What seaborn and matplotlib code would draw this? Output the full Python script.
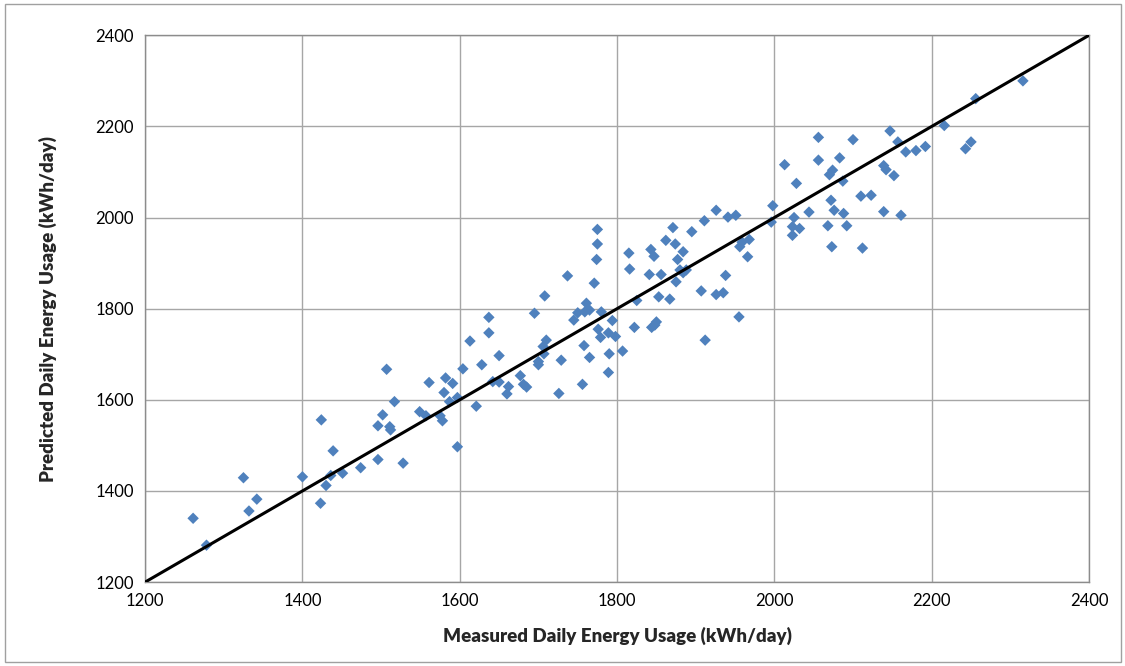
import pandas as pd
import matplotlib
matplotlib.use("Agg")
import matplotlib.pyplot as plt
import seaborn as sns

# measured vs predicted daily energy usage (kWh/day)
measured = [
    1261, 1278, 1325, 1332, 1342, 1400, 1423, 1424, 1430, 1436,
    1439, 1451, 1474, 1496, 1496, 1502, 1507, 1511, 1512, 1517,
    1528, 1549, 1557, 1561, 1575, 1578, 1580, 1582, 1587, 1591,
    1597, 1597,
    1604, 1613, 1621, 1628, 1637, 1637, 1642, 1650, 1650, 1660,
    1662, 1677, 1681, 1685, 1695, 1700, 1700, 1707,
    1706, 1708, 1710, 1726, 1729, 1737, 1745, 1750, 1756, 1758,
    1759, 1761, 1765, 1765, 1771, 1774, 1775, 1775, 1776, 1779,
    1780, 1789, 1789, 1790, 1794, 1798, 1807, 1815, 1816, 1822,
    1825, 1841, 1843, 1844, 1847, 1848, 1850, 1853, 1856, 1862,
    1867, 1871, 1874, 1875, 1877, 1880, 1884, 1884, 1888, 1895,
    1907, 1911, 1912, 1926, 1926, 1935, 1938, 1941, 1951, 1955,
    1956, 1959, 1966, 1968,
    1996, 1998, 2013, 2023, 2023, 2025, 2028, 2032, 2044, 2056,
    2056, 2068, 2070, 2072, 2073, 2074, 2076, 2083, 2087, 2088,
    2092, 2100, 2110, 2112, 2123, 2139, 2139, 2142, 2147, 2152,
    2157, 2161, 2167, 2180, 2192, 2216, 2243, 2250, 2256, 2316,
]
predicted = [
    1340, 1281, 1429, 1356, 1382, 1431, 1373, 1556, 1412, 1434,
    1488, 1439, 1451, 1469, 1543, 1567, 1667, 1541, 1534, 1596,
    1461, 1574, 1565, 1638, 1565, 1554, 1616, 1648, 1596, 1636,
    1497, 1605,
    1668, 1729, 1586, 1677, 1781, 1747, 1640, 1697, 1639, 1613,
    1629, 1653, 1634, 1628, 1790, 1684, 1677, 1701,
    1717, 1828, 1731, 1614, 1687, 1872, 1775, 1791, 1634, 1719,
    1793, 1812, 1797, 1693, 1856, 1908, 1974, 1942, 1755, 1737,
    1793, 1747, 1660, 1701, 1774, 1739, 1707, 1922, 1887, 1759,
    1818, 1875, 1930, 1759, 1915, 1764, 1771, 1826, 1875, 1950,
    1821, 1978, 1942, 1859, 1908, 1885, 1879, 1925, 1885, 1969,
    1839, 1993, 1731, 1831, 2016, 1835, 1873, 2001, 2005, 1782,
    1936, 1946, 1914, 1952,
    1990, 2026, 2116, 1980, 1961, 2000, 2075, 1976, 2012, 2176,
    2126, 1982, 2094, 2038, 1936, 2104, 2016, 2131, 2080, 2009,
    1982, 2171, 2047, 1933, 2049, 2013, 2114, 2105, 2190, 2092,
    2166, 2005, 2144, 2147, 2156, 2202, 2151, 2166, 2261, 2300,
]
axis_ticks = [1200, 1400, 1600, 1800, 2000, 2200, 2400]

df = pd.DataFrame({"measured": measured, "predicted": predicted})

sns.set_style("white")
plt.rcParams["font.family"] = ["Lato", "DejaVu Sans"]

fig = plt.figure(figsize=(11.25, 6.66), dpi=100)
ax = fig.add_axes([0.129, 0.126, 0.839, 0.821])

# outer chart frame like the spreadsheet export
fig.patches.append(plt.Rectangle((0.004, 0.006), 0.992, 0.988, transform=fig.transFigure,
                                 fill=False, edgecolor="#a0a0a0", linewidth=1))

sns.scatterplot(data=df, x="measured", y="predicted", marker="D", s=34,
                color="#4f81bd", edgecolor="none", ax=ax, zorder=3)
sns.lineplot(x=[axis_ticks[0], axis_ticks[-1]], y=[axis_ticks[0], axis_ticks[-1]],
             color="black", linewidth=2.2, ax=ax, zorder=4)

ax.set_xlim(axis_ticks[0], axis_ticks[-1])
ax.set_ylim(axis_ticks[0], axis_ticks[-1])
ax.set_xticks(axis_ticks)
ax.set_yticks(axis_ticks)
ax.grid(True, color="#a6a6a6", linewidth=1)
ax.set_axisbelow(True)
for s in ax.spines.values():
    s.set_color("#8c8c8c")
    s.set_linewidth(1)
ax.tick_params(axis="both", labelsize=12, length=0, pad=8, colors="black")

ax.set_xlabel("Measured Daily Energy Usage (kWh/day)", fontsize=13.5, fontweight="heavy", labelpad=13)
ax.set_ylabel("Predicted Daily Energy Usage (kWh/day)", fontsize=13.5, fontweight="heavy", labelpad=28)

plt.savefig("out.png", dpi=100)
